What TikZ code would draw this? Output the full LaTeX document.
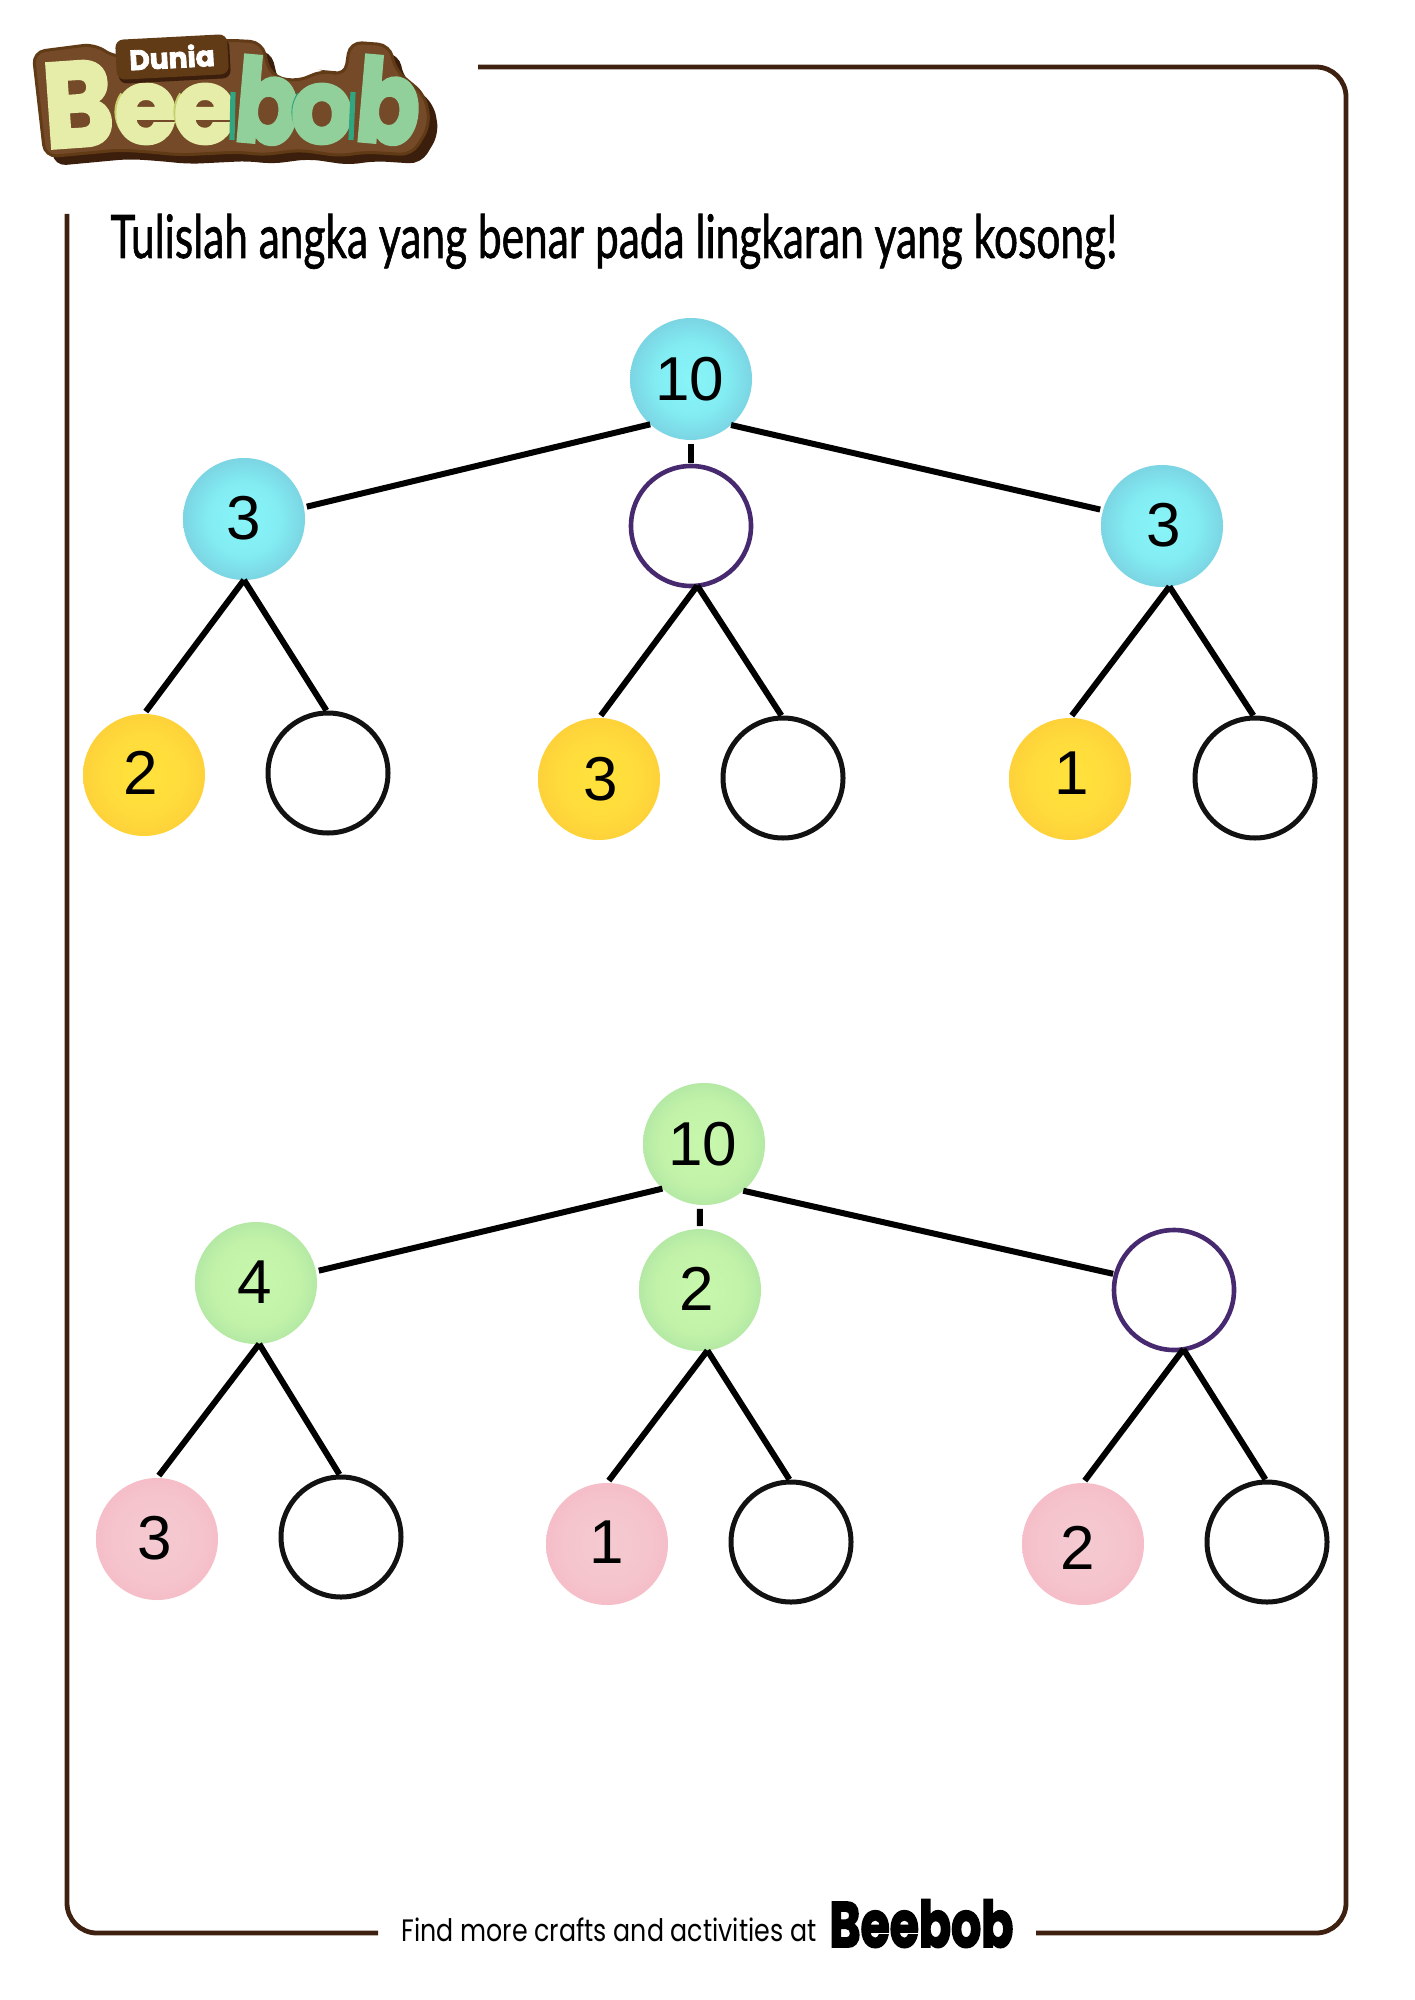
\documentclass[tikz,border=0pt]{standalone}
\usepackage{graphicx}
\usepackage{fontspec}
\setmainfont{Liberation Sans}
\newfontfamily\titlefont[FakeBold=1.2]{Lato}
\newfontfamily\footfont{Poppins}
\newfontfamily\logofont[BoldFeatures={FakeBold=3}]{Poppins}
\usetikzlibrary{shadows}
\definecolor{framebrown}{HTML}{3E2110}
\definecolor{ringpurple}{HTML}{46296E}
\definecolor{logobrown}{HTML}{754A28}
\definecolor{logotag}{HTML}{613A16}
\definecolor{logoshade}{HTML}{3B1F0C}
\definecolor{logopale}{HTML}{E6EDA8}
\definecolor{logopaledk}{HTML}{C6CF6C}
\definecolor{logogreen}{HTML}{92D09B}
\definecolor{logogreendk}{HTML}{2FA67F}
\definecolor{blueA}{HTML}{88F5F8}
\definecolor{blueB}{HTML}{82ECF2}
\definecolor{blueC}{HTML}{7AD0E0}
\definecolor{blueD}{HTML}{74BCD3}
\definecolor{yellowA}{HTML}{FFE23C}
\definecolor{yellowB}{HTML}{FFDC3C}
\definecolor{yellowC}{HTML}{FCC636}
\definecolor{greenA}{HTML}{C8F8AC}
\definecolor{greenB}{HTML}{C2F2A8}
\definecolor{greenC}{HTML}{A0DCA0}
\definecolor{pinkA}{HTML}{F5CAD1}
\definecolor{pinkB}{HTML}{F5C4CD}
\definecolor{pinkC}{HTML}{F4B4C1}
\pgfdeclareradialshading{bluewash}{\pgfpoint{0bp}{0bp}}{color(0bp)=(blueA);color(15bp)=(blueB);color(27bp)=(blueC);color(35bp)=(blueD);color(50bp)=(blueD)}
\pgfdeclareradialshading{yellowwash}{\pgfpoint{0bp}{0bp}}{color(0bp)=(yellowA);color(16bp)=(yellowB);color(35bp)=(yellowC);color(50bp)=(yellowC)}
\pgfdeclareradialshading{greenwash}{\pgfpoint{0bp}{0bp}}{color(0bp)=(greenA);color(18bp)=(greenB);color(35bp)=(greenC);color(50bp)=(greenC)}
\pgfdeclareradialshading{pinkwash}{\pgfpoint{0bp}{0bp}}{color(0bp)=(pinkA);color(18bp)=(pinkB);color(35bp)=(pinkC);color(50bp)=(pinkC)}
\tikzset{
  orb/.style={circle,inner sep=0pt,outer sep=0pt,minimum size=61pt,text height=21.7pt,font=\fontsize{31}{31}\selectfont},
  orbblue/.style={orb,shade,shading=bluewash},
  orbyellow/.style={orb,shade,shading=yellowwash},
  orbgreen/.style={orb,shade,shading=greenwash},
  orbpink/.style={orb,shade,shading=pinkwash},
  ringblack/.style={orb,minimum size=60pt,draw=black!93,line width=2.5pt},
  ringviolet/.style={orb,minimum size=60pt,draw=ringpurple,line width=2.3pt},
  branch/.style={line width=3pt,black,shorten >=1.5pt},
  stub/.style={line width=3pt,black,shorten >=1.5pt,shorten <=2pt},
  frameline/.style={line width=2.4pt,framebrown,rounded corners=15pt},
  logoletter/.style={anchor=base,inner sep=0pt,text=logopale,font=\logofont\bfseries\fontsize{52}{52}\selectfont},
  logoletterb/.style={logoletter,text=logogreen,font=\logofont\bfseries\fontsize{58}{58}\selectfont},
  logoedge/.style={line width=2.6pt},
}
\begin{document}
\begin{tikzpicture}[x=0.5pt,y=-0.5pt]
  \useasboundingbox (0,0) rectangle (1414,2000);
  % frame
  \draw[frameline] (478,67) -- (1346,67) -- (1346,1933) -- (1036,1933);
  \draw[frameline] (378,1933) -- (67,1933) -- (67,214);
  % logo
  \def\logoblob{(33,52) -- (95,44) -- (115,58) -- (225,40) -- (262,42) -- (270,75) -- (295,82) -- (325,70) -- (345,76) -- (350,42) -- (390,45) -- (395,70) -- (425,95) -- (430,125) -- (412,155) -- (365,152) -- (340,156) -- (300,150) -- (262,155) -- (240,152) -- (180,155) -- (150,152) -- (120,150) -- (45,157) -- cycle}
  \fill[logoshade,rounded corners=6pt,shift={(9,9)}] \logoblob;
  \filldraw[fill=logobrown,draw=logotag,line width=1.5pt,rounded corners=6pt] \logoblob;
  \node[logoletter,rotate=4,font=\logofont\bfseries\fontsize{60}{60}\selectfont] (logoB) at (81,146) {\resizebox{35pt}{\height}{B}};
  \draw[logoedge,logopaledk] (148,112) ++(145:15.5pt) arc[start angle=145,end angle=215,radius=15.5pt];
  \node[logoletter] (logoe) at (146,143) {\resizebox{31pt}{\height}{e}};
  \draw[logoedge,logopaledk] (207,112) ++(145:15.5pt) arc[start angle=145,end angle=215,radius=15.5pt];
  \node[logoletter] (logoee) at (205,143) {\resizebox{31pt}{\height}{e}};
  \node[logoletterb,rotate=-5] (logob) at (264,143) {\resizebox{32pt}{\height}{b}};
  \draw[logoedge,logogreendk] (325,112) ++(145:15.5pt) arc[start angle=145,end angle=215,radius=15.5pt];
  \node[logoletter,text=logogreen] (logoo) at (322,143) {\resizebox{31pt}{\height}{o}};
  \node[logoletterb,rotate=-5] (logobb) at (385,143) {\resizebox{32pt}{\height}{b}};
  \draw[logoedge,logogreendk] (233,92) -- (232,140);
  \draw[logoedge,logogreendk] (353,92) -- (351,140);
  \node[rotate=3,fill=logotag,rounded corners=4pt,minimum width=56pt,minimum height=20pt,inner sep=0pt,text=white,font=\logofont\bfseries\fontsize{14}{14}\selectfont,drop shadow={shadow xshift=1pt,shadow yshift=-2pt,opacity=1,fill=logoshade}] (logotag) at (172,57) {Dunia};
  % title
  \node[anchor=base west,inner sep=0pt,font=\titlefont\fontsize{30}{30}\selectfont] (title) at (110,258) {\resizebox{503.5pt}{\height}{Tulislah angka yang benar pada lingkaran yang kosong!}};
  % first tree
  \node[orbblue] (rootA) at (691,379) {10\kern1.3pt};
  \node[orbblue,text depth=1.3pt] (blueL) at (244,519) {3\kern.7pt};
  \node[ringviolet] (ringA) at (691,526) {};
  \node[orbblue,text depth=1.3pt] (blueR) at (1162,526) {\kern1.3pt3};
  \node[orbyellow,text depth=2.5pt] (yelL) at (144,775) {2\kern3pt};
  \node[ringblack] (ringAL) at (328,773) {};
  \node[orbyellow] (yelM) at (599,779) {\kern1.3pt3};
  \node[ringblack] (ringAM) at (783,778) {};
  \node[orbyellow,text depth=6.4pt] (yelR) at (1070,779) {\kern1.3pt1};
  \node[ringblack] (ringAR) at (1255,778) {};
  \draw[branch] (rootA.228) -- (blueL.11);
  \draw[branch] (rootA.-49) -- (blueR.165);
  \draw[stub] (rootA.south) -- (ringA.north);
  \draw[branch] (blueL.south) -- (yelL.north);
  \draw[branch] (blueL.south) -- (ringAL.north);
  \draw[branch] (ringA.-84) -- (yelM.north);
  \draw[branch] (ringA.-84) -- (ringAM.north);
  \draw[branch] (blueR.-83) -- (yelR.north);
  \draw[branch] (blueR.-83) -- (ringAR.north);
  % second tree
  \node[orbgreen] (rootB) at (704,1144) {10\kern1.3pt};
  \node[orbgreen,text depth=1.3pt] (greenL) at (256,1283) {4\kern1.7pt};
  \node[orbgreen,text depth=1.3pt] (greenM) at (700,1290) {2\kern3pt};
  \node[ringviolet] (ringB) at (1174,1290) {};
  \node[orbpink,text depth=1.3pt] (pinkL) at (157,1539) {3\kern2pt};
  \node[ringblack] (ringBL) at (341,1537) {};
  \node[orbpink,text depth=2.5pt] (pinkM) at (607,1544) {1};
  \node[ringblack] (ringBM) at (791,1542) {};
  \node[orbpink,text height=25.5pt] (pinkR) at (1083,1544) {2\kern5.7pt};
  \node[ringblack] (ringBR) at (1267,1542) {};
  \draw[branch] (rootB.227) -- (greenL.11);
  \draw[branch] (rootB.-50) -- (ringB.165);
  \draw[stub] (rootB.-94) -- (greenM.north);
  \draw[branch] (greenL.-87) -- (pinkL.north);
  \draw[branch] (greenL.-87) -- (ringBL.north);
  \draw[branch] (greenM.-83) -- (pinkM.north);
  \draw[branch] (greenM.-83) -- (ringBM.north);
  \draw[branch] (ringB.-81) -- (pinkR.north);
  \draw[branch] (ringB.-81) -- (ringBR.north);
  % footer
  \node[anchor=base west,inner sep=0pt,font=\footfont\fontsize{15.5}{15.5}\selectfont] (foot) at (401,1941) {\resizebox{207.5pt}{\height}{Find more crafts and activities at}};
  \node[anchor=base west,inner sep=0pt,font=\logofont\bfseries\fontsize{32}{32}\selectfont] (footlogo) at (829,1947) {\resizebox{92pt}{\height}{Beebob}};
\end{tikzpicture}
\end{document}
